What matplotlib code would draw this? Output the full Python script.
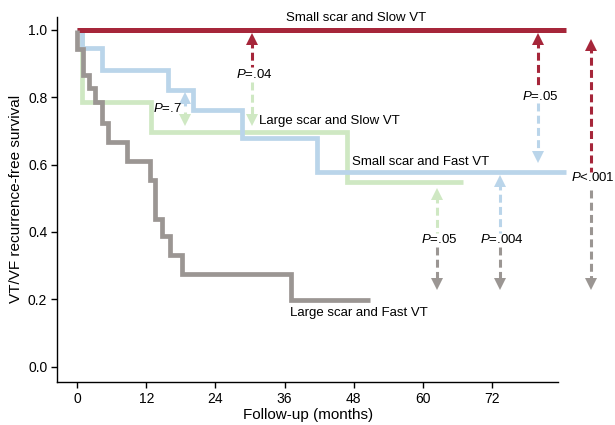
import matplotlib
matplotlib.use('Agg')
import matplotlib.pyplot as plt
from matplotlib.transforms import offset_copy

plt.rcParams['font.family'] = ['Liberation Sans', 'DejaVu Sans']
plt.rcParams['mathtext.fontset'] = 'custom'
plt.rcParams['mathtext.it'] = 'Liberation Sans:italic'
plt.rcParams['mathtext.rm'] = 'Liberation Sans'

# ---- data (months, survival) ----
red_t = [0, 85]
red_s = [1.0, 1.0]
blue_t = [0, 0.8, 4.2, 15.8, 20.1, 28.6, 41.6, 85.0]
blue_s = [1.0, 0.946, 0.881, 0.821, 0.762, 0.679, 0.578, 0.578]
green_t = [0, 0.8, 12.8, 46.8, 67.0]
green_s = [1.0, 0.787, 0.697, 0.548, 0.548]
gray_t = [0, 0, 1.0, 2.0, 3.0, 4.2, 5.25, 8.6, 12.7, 13.5, 14.75, 16.1, 18.1, 37.1, 50.9]
gray_s = [1.0, 0.943, 0.866, 0.827, 0.786, 0.723, 0.667, 0.611, 0.554, 0.4375,
          0.387, 0.330, 0.274, 0.198, 0.198]

x_ticks = [0, 12, 24, 36, 48, 60, 72]
y_ticks = [0.0, 0.2, 0.4, 0.6, 0.8, 1.0]

RED = '#a6263a'
BLUE = '#bad5ea'
GREEN = '#cfe8c3'
GRAY = '#9b9693'

# P-value comparisons: x, top tip, top dash end, text y, bottom dash start, bottom tip
comparisons = [
    (18.7, 0.817, 0.774, 0.765, 0.756, 0.715, BLUE, GREEN, '.7'),
    (30.3, 0.990, 0.891, 0.866, 0.846, 0.715, RED, GREEN, '.04'),
    (80.0, 0.990, 0.837, 0.802, 0.783, 0.604, RED, BLUE, '.05'),
    (89.25, 0.975, 0.579, 0.560, 0.525, 0.226, RED, GRAY, '<.001'),
    (62.5, 0.530, 0.397, 0.378, 0.356, 0.226, GREEN, GRAY, '.05'),
    (73.5, 0.569, 0.397, 0.378, 0.356, 0.226, BLUE, GRAY, '.004'),
]

fig = plt.figure(figsize=(6.15, 4.25), dpi=100)
ax = fig.add_axes([0.0932, 0.1019, 0.8146, 0.8588])
ax.set_xlim(-3.5, 83.6)
ax.set_ylim(-0.045, 1.039)

lw = 3.4
kw = dict(where='post', lw=lw, solid_capstyle='butt', solid_joinstyle='miter', clip_on=False)
ax.step(green_t, green_s, color=GREEN, zorder=2, **kw)
ax.step(blue_t, blue_s, color=BLUE, zorder=3, **kw)
ax.step(red_t, red_s, color=RED, zorder=4, where='post', lw=3.6,
        solid_capstyle='butt', clip_on=False)
ax.step(gray_t, gray_s, color=GRAY, zorder=5, **kw)

up_tr = offset_copy(ax.transData, fig=fig, y=-4.5, units='points')
dn_tr = offset_copy(ax.transData, fig=fig, y=4.5, units='points')
dash = (0, (2.6, 1.4))
for (x, tt, te, ty, bs, bt, ct, cb, pv) in comparisons:
    ax.plot([x, x], [tt - 0.02, te], color=ct, lw=2.2, ls=dash, clip_on=False, zorder=6)
    ax.plot([x, x], [bs, bt + 0.02], color=cb, lw=2.2, ls=dash, clip_on=False, zorder=6)
    ax.plot([x], [tt], marker='^', ms=9, color=ct, mew=0, transform=up_tr,
            clip_on=False, zorder=7)
    ax.plot([x], [bt], marker='v', ms=9, color=cb, mew=0, transform=dn_tr,
            clip_on=False, zorder=7)
    if pv == '.7':
        ax.text(18.1, ty, r'$P$=' + pv, ha='right', va='center', fontsize=9.5, zorder=8)
    else:
        ax.text(x + 0.4, ty, (r'$P$' + pv) if pv.startswith('<') else (r'$P$=' + pv),
                ha='center', va='center', fontsize=9.5, clip_on=False, zorder=8)

ax.text(48.4, 1.036, 'Small scar and Slow VT', ha='center', va='center', fontsize=9.5,
        clip_on=False)
ax.text(31.6, 0.728, 'Large scar and Slow VT', ha='left', va='center', fontsize=9.5)
ax.text(47.7, 0.606, 'Small scar and Fast VT', ha='left', va='center', fontsize=9.5)
ax.text(37.0, 0.160, 'Large scar and Fast VT', ha='left', va='center', fontsize=9.5)

ax.set_xticks(x_ticks)
ax.set_xticklabels([str(v) for v in x_ticks])
ax.set_yticks(y_ticks)
ax.set_yticklabels([f'{v:.1f}' for v in y_ticks])
ax.tick_params(labelsize=10, width=1.0, length=4.2, pad=3, direction='out')
for s in ['top', 'right']:
    ax.spines[s].set_visible(False)
for s in ['left', 'bottom']:
    ax.spines[s].set_linewidth(1.0)

ax.set_xlabel('Follow-up (months)', fontsize=11)
ax.set_ylabel('VT/VF recurrence-free survival', fontsize=11)
ax.xaxis.label.set_va('center')
ax.yaxis.label.set_va('center')
ax.xaxis.set_label_coords(0.5, -0.091)
ax.yaxis.set_label_coords(-0.082, 0.5)

fig.savefig('out.png', dpi=100)
